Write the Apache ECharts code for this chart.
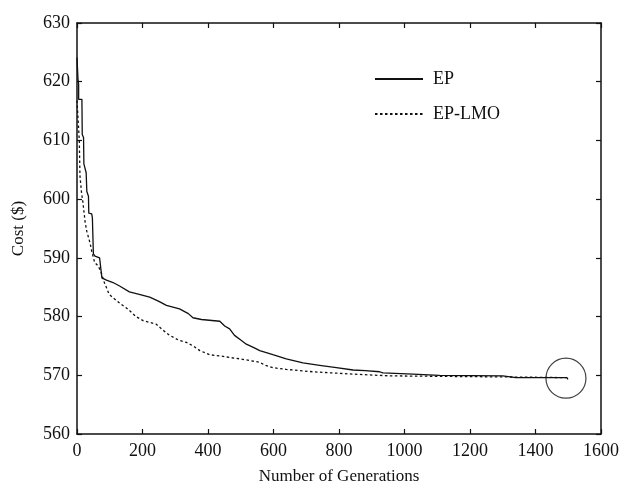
<!DOCTYPE html>
<html><head><meta charset="utf-8">
<script src="https://cdn.jsdelivr.net/npm/echarts@6/dist/echarts.min.js"></script>
<style>html,body{margin:0;padding:0;background:#fff}#c{width:624px;height:490px}</style>
</head><body><div id="c"></div>
<script>
var seriesNames = ['EP', 'EP-LMO'];
var xTicks = [0, 200, 400, 600, 800, 1000, 1200, 1400, 1600];
var yTicks = [560, 570, 580, 590, 600, 610, 620, 630];
// [generation, cost] points for EP
var epData = [
  [0, 624.1], [3, 624.0], [3, 620.5], [5, 619.5], [5, 617.0], [15, 617.0], [16, 611.0], [20, 610.5],
  [21, 606.0], [28, 604.5], [30, 601.3], [35, 600.5], [36, 597.6], [45, 597.5], [47, 596.8], [49, 596.5],
  [50, 590.7], [55, 590.3], [69, 590.0], [72, 589.8], [76, 586.6], [90, 586.2], [110, 585.8], [130, 585.2],
  [160, 584.2], [190, 583.8], [222, 583.3], [250, 582.6], [273, 581.9], [313, 581.3], [340, 580.5],
  [354, 579.8], [380, 579.5], [436, 579.2], [451, 578.4], [466, 577.9], [481, 576.8], [500, 576.0],
  [517, 575.3], [540, 574.7], [558, 574.2], [598, 573.5], [639, 572.8], [690, 572.1], [741, 571.7],
  [792, 571.3], [843, 570.9], [880, 570.8], [924, 570.6], [934, 570.4], [1026, 570.2], [1107, 570.0],
  [1300, 569.9], [1340, 569.6], [1496, 569.6], [1499, 569.3]
];
// [generation, cost] points for EP-LMO
var lmoData = [
  [0, 616.8], [5, 616.8], [7, 610.0], [9, 604.0], [14, 601.0], [18, 599.5], [25, 596.0], [30, 594.5],
  [40, 592.5], [45, 591.1], [54, 589.2], [65, 588.6], [74, 587.5], [82, 586.0], [88, 585.2], [98, 583.8],
  [110, 583.2], [130, 582.3], [150, 581.5], [161, 581.0], [180, 580.0], [202, 579.3], [242, 578.7],
  [260, 577.8], [283, 576.8], [310, 576.0], [334, 575.6], [355, 575.0], [375, 574.2], [405, 573.5],
  [436, 573.3], [470, 573.0], [497, 572.8], [530, 572.5], [558, 572.2], [575, 571.7], [598, 571.3],
  [639, 571.0], [680, 570.8], [720, 570.6], [780, 570.4], [843, 570.2], [955, 569.9], [1340, 569.7],
  [1495, 569.6]
];
var circleMark = [[1493, 569.5]];

var FONT = 'Liberation Serif';
var chart = echarts.init(document.getElementById('c'));
function xAx(pos, show) {
  return {
    type: 'value', position: pos, min: xTicks[0], max: xTicks[xTicks.length - 1], interval: xTicks[1] - xTicks[0],
    axisLine: { show: true, onZero: false, lineStyle: { color: '#111', width: 1.5 } },
    axisTick: { show: true, inside: true, length: 5, lineStyle: { color: '#111', width: 1.2 } },
    axisLabel: { show: show, fontFamily: FONT, fontSize: 18, color: '#111', margin: 8,
      formatter: function (v) { return String(v); } },
    splitLine: { show: false },
    name: show ? 'Number of Generations' : '', nameLocation: 'middle', nameGap: 34,
    nameTextStyle: { fontFamily: FONT, fontSize: 17, color: '#111' }
  };
}
function yAx(pos, show) {
  return {
    type: 'value', position: pos, min: yTicks[0], max: yTicks[yTicks.length - 1], interval: yTicks[1] - yTicks[0],
    axisLine: { show: true, onZero: false, lineStyle: { color: '#111', width: 1.5 } },
    axisTick: { show: true, inside: true, length: 5, lineStyle: { color: '#111', width: 1.2 } },
    axisLabel: { show: show, fontFamily: FONT, fontSize: 18, color: '#111', margin: 7,
      formatter: function (v) { return String(v); } },
    splitLine: { show: false },
    name: show ? 'Cost ($)' : '', nameLocation: 'middle', nameGap: 50,
    nameTextStyle: { fontFamily: FONT, fontSize: 17, color: '#111' }
  };
}
chart.setOption({
  animation: false,
  backgroundColor: '#fff',
  grid: { left: 77, right: 23, top: 23, bottom: 52, containLabel: false },
  legend: {
    data: seriesNames, orient: 'vertical', left: 369, top: 65, itemWidth: 48, itemHeight: 14, itemGap: 17,
    itemStyle: { opacity: 0, borderWidth: 0 },
    textStyle: { fontFamily: FONT, fontSize: 18, color: '#111', padding: [0, 0, 0, 5] }
  },
  xAxis: [xAx('bottom', true), xAx('top', false)],
  yAxis: [yAx('left', true), yAx('right', false)],
  series: [
    { name: seriesNames[0], type: 'line', data: epData, symbol: 'none',
      lineStyle: { color: '#111', width: 1.3, type: 'solid' }, itemStyle: { color: '#111' } },
    { name: seriesNames[1], type: 'line', data: lmoData, symbol: 'none',
      lineStyle: { color: '#111', width: 1.3, type: [2.5, 2.5] }, itemStyle: { color: '#111' } },
    { type: 'scatter', data: circleMark, symbol: 'circle', symbolSize: 40, silent: true,
      itemStyle: { color: 'transparent', borderColor: '#111', borderWidth: 1.2 } }
  ]
});
</script></body></html>
